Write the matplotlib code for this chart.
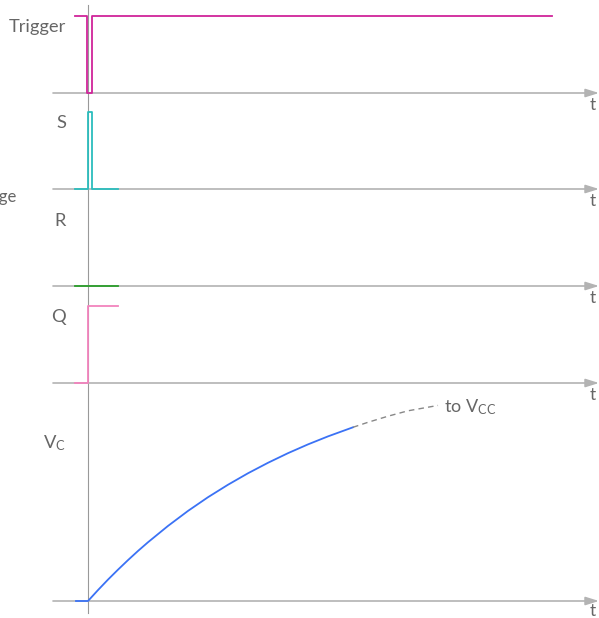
import matplotlib
matplotlib.use("Agg")
import matplotlib.pyplot as plt

plt.rcParams["font.family"] = ["Lato", "DejaVu Sans"]
plt.rcParams["mathtext.fontset"] = "custom"
plt.rcParams["mathtext.rm"] = "Lato"
plt.rcParams["mathtext.it"] = "Lato"

# ---- signals (time in arbitrary units, levels in logic/volt units) ----
trigger_t = [-1.3, -0.13, 0.4, 46.4]
trigger_v = [1, 0, 1, 1]

s_t = [-1.3, 0.0, 0.4, 3.0]
s_v = [0, 1, 0, 0]

r_t = [-1.3, 3.0]
r_v = [0, 0]

q_t = [-1.3, 0.0, 3.0]
q_v = [0, 1, 1]

vc_t = [-1.2, 0, 1, 2, 3, 4, 5, 6, 8, 10, 12, 14, 16, 18, 20, 22, 24, 26.5]
vc_v = [0.0, 0.0, 0.142, 0.278, 0.407, 0.531, 0.650, 0.763, 0.975, 1.170,
        1.348, 1.510, 1.659, 1.795, 1.920, 2.034, 2.138, 2.256]
vc_tail_t = [26.5, 28, 30, 32, 35]
vc_tail_v = [2.256, 2.321, 2.400, 2.470, 2.540]

lane_names = ["Trigger", "S", "R", "Q", "V$_\\mathrm{C}$"]
lane_colors = ["#d0249a", "#2bbdbd", "#2a9d2a", "#f283bd", "#3b72f5"]

# ---- layout ----
W, H = 599, 618
UNIT = 77.0
base_px = [93, 189, 286, 383, 601]
bases = [(H - p) / UNIT for p in base_px]
label_off = [0.86, 0.86, 0.84, 0.86, 2.05]
t_off = [0.15, 0.15, 0.15, 0.15, 0.125]

fig = plt.figure(figsize=(W / 100, H / 100), dpi=100)
ax = fig.add_axes([0, 0, 1, 1])
ax.set_xlim(-8.8, W / 10 - 8.8)
ax.set_ylim(0, H / UNIT)
ax.axis("off")

axis_col = "#b3b3b3"
text_col = "#666666"

# time axes with arrows
for b, to in zip(bases, t_off):
    ax.annotate("", xy=(51.1, b), xytext=(-3.5, b),
                arrowprops=dict(arrowstyle="-|>,head_length=0.8,head_width=0.25",
                                color=axis_col, lw=1.2, mutation_scale=10,
                                shrinkA=0, shrinkB=0))
    ax.text(50.5, b - to, "t", color=text_col, fontsize=12.5,
            ha="center", va="center")

# common time origin
ax.plot([0, 0], [(H - 613) / UNIT, (H - 5) / UNIT], color="#999999", lw=0.8,
        zorder=1)

series = [(trigger_t, trigger_v), (s_t, s_v), (r_t, r_v), (q_t, q_v)]
for (t, v), b, c in zip(series, bases[:4], lane_colors[:4]):
    ax.plot(t, [b + x for x in v], drawstyle="steps-post", color=c, lw=1.3,
            zorder=3)

ax.plot(vc_t, [bases[4] + x for x in vc_v], color=lane_colors[4], lw=1.3,
        zorder=3)
ax.plot(vc_tail_t, [bases[4] + x for x in vc_tail_v], color="#888888",
        lw=1.0, ls=(0, (4, 3)), zorder=3)
ax.text(35.6, bases[4] + vc_tail_v[-1] - 0.02, "to V$_\\mathrm{CC}$",
        color=text_col, fontsize=13, ha="left", va="center")

for name, b, off in zip(lane_names, bases, label_off):
    ax.text(-2.2, b + off, name, color=text_col, fontsize=13.2,
            ha="right", va="center")

ax.text(-7.1, bases[1] - 0.1, "Voltage", color=text_col, fontsize=12,
        ha="right", va="center")

fig.savefig("out.png", dpi=100)
